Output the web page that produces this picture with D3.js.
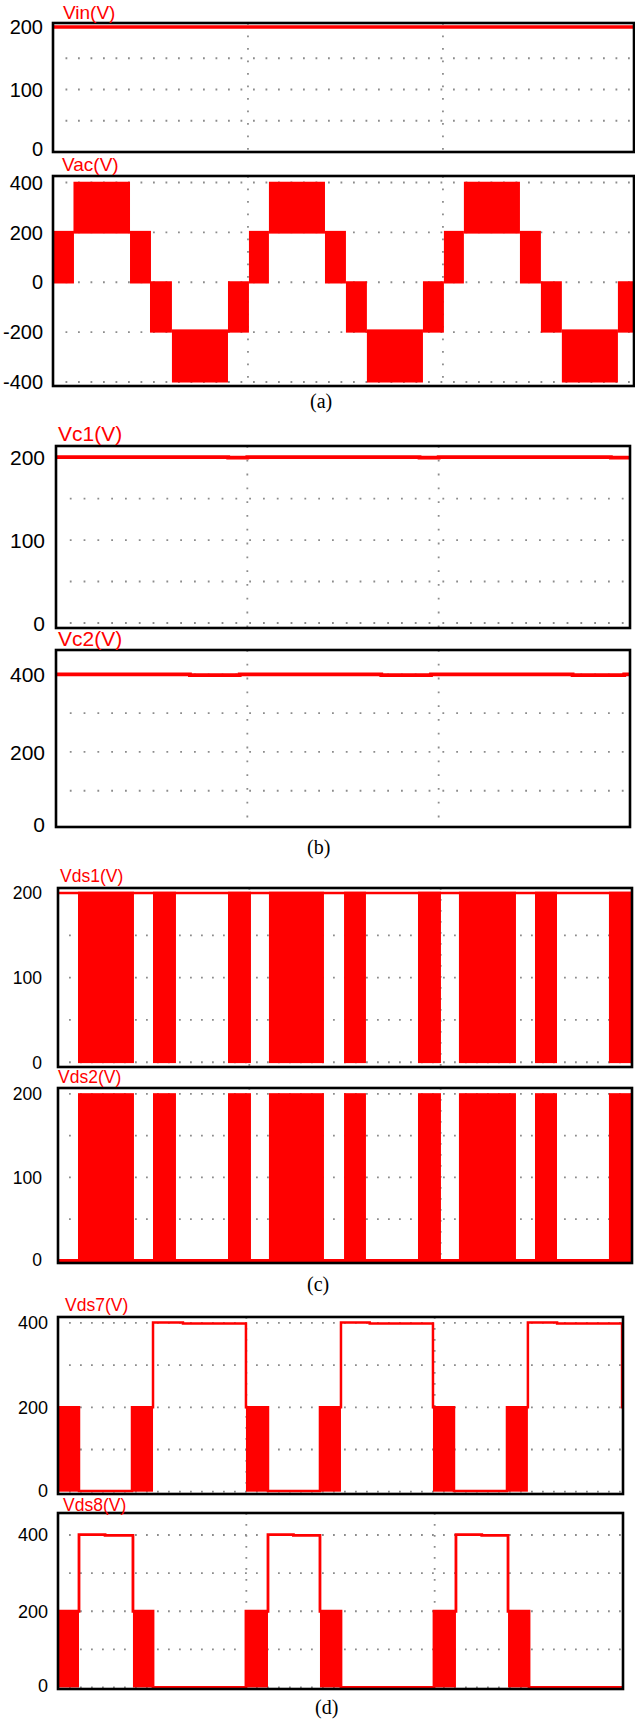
<!DOCTYPE html>
<html>
<head>
<meta charset="utf-8">
<script src="https://cdn.jsdelivr.net/npm/d3@7/dist/d3.min.js"></script>
<style>
    body { margin: 0; background: #fff; }
    svg text { font-family: "Liberation Sans", Arial, sans-serif; }
    .cap { font-family: "Liberation Serif", "Times New Roman", serif; }
</style>
</head>
<body>
<svg id="chart" width="635" height="1724"></svg>
<script>
// ---- data (time in ms, voltage in V) ----

// vertical dotted grid, every 20 ms
const timeGrid = [20, 40];

// (a) input voltage and inverter output
const vinLine = [[0, 200], [59.6, 200]];
// PWM blocks: [t0, t1, low, high]
const vacBlocks = [
    [0, 2.15, -5, 206], [2.1, 7.9, 195, 403], [7.9, 10.05, -5, 206],
    [9.95, 12.2, -202, 4], [12.2, 17.95, -402, -189], [17.95, 20.1, -202, 4],
    [20.1, 22.15, -5, 206], [22.15, 27.9, 195, 403], [27.9, 30.05, -5, 206],
    [30.05, 32.2, -202, 4], [32.2, 37.95, -402, -189], [37.95, 40.1, -202, 4],
    [40.1, 42.15, -5, 206], [42.15, 47.9, 195, 403], [47.9, 50.05, -5, 206],
    [50.05, 52.2, -202, 4], [52.2, 57.95, -402, -189], [57.95, 59.6, -202, 4]
];

// (b) capacitor voltages
const vc1Line = [[0, 200], [18, 199.2], [20, 200], [38, 199.2], [40, 200], [58, 199.2], [60, 200]];
const vc2Line = [[0, 400], [14, 398], [19.2, 400], [34, 398], [39.2, 400], [54, 398], [59.4, 400], [60, 400]];

// (c) switch voltages Vds1, Vds2
const vds1Blocks = [
    [2.09, 7.94, -1, 201.5], [9.93, 12.33, -1, 201.5], [17.77, 20.17, -1, 201.5],
    [22.05, 27.8, -1, 201.5], [29.9, 32.19, -1, 201.5], [37.63, 40.03, -1, 201.5],
    [41.91, 47.87, -1, 201.5], [49.86, 52.16, -1, 201.5], [57.59, 60, -1, 201.5]
];
const vds1Line = [[0, 200], [60, 200]];
const vds2Blocks = [
    [2.09, 7.94, 0, 200.8], [9.93, 12.33, 0, 200.8], [17.77, 20.17, 0, 200.8],
    [22.05, 27.8, 0, 200.8], [29.9, 32.19, 0, 200.8], [37.63, 40.03, 0, 200.8],
    [41.91, 47.87, 0, 200.8], [49.86, 52.16, 0, 200.8], [57.59, 60, 0, 200.8]
];
const vds2Line = [[0, 0], [60, 0]];

// (d) switch voltages Vds7, Vds8
const vds7Blocks = [
    [0, 2.23, 0, 200], [7.86, 10.09, 0, 200], [19.96, 22.3, 0, 200],
    [27.82, 30.05, 0, 200], [39.82, 42.05, 0, 200], [47.68, 49.9, 0, 200]
];
const vds7Line = [
    [0, 200], [2.23, 1.5], [7.86, 200], [10.09, 401], [13.27, 398.5], [19.96, 200],
    [22.3, 1.5], [27.82, 200], [30.05, 401], [33.1, 398.5], [39.82, 200],
    [42.05, 1.5], [47.68, 200], [49.9, 401], [53.0, 398.5], [59.9, 200], [60, 200]
];
const vds8Blocks = [
    [0, 2.23, 0, 200], [7.96, 10.09, 0, 200], [19.96, 22.3, 0, 200],
    [27.82, 30.05, 0, 200], [39.93, 42.26, 0, 200], [47.79, 50.02, 0, 200]
];
const vds8Line = [
    [0, 200], [2.23, 401], [5.0, 399], [7.96, 200], [10.09, 0], [19.96, 200],
    [22.3, 401], [25.0, 399], [27.82, 200], [30.05, 0], [39.93, 200],
    [42.26, 401], [45.0, 399], [47.79, 200], [50.02, 0], [60, 0]
];

// axis ticks and dotted grid levels
const ticks200 = [0, 100, 200];
const ticksVac = [-400, -200, 0, 200, 400];
const ticks400 = [0, 200, 400];
const grid200 = [0, 50, 100, 150, 200];
const gridVac = [-400, -200, 0, 200, 400];
const grid400 = [0, 100, 200, 300, 400];

// ---- layout ----
const panels = [
    {name: "Vin(V)", left: 53, right: 634, top: 23, bottom: 152, xMax: 59.6, yDom: [0, 206.4],
     ticks: ticks200, grid: grid200, blocks: [], line: vinLine, lw: 3.6,
     font: 20, pad: 10, lab: 19, labX: 63, labY: 19, dot: 12.5},
    {name: "Vac(V)", left: 53, right: 634, top: 176, bottom: 386, xMax: 59.6, yDom: [-416, 426],
     ticks: ticksVac, grid: gridVac, blocks: vacBlocks, line: null, lw: 0,
     font: 20, pad: 10, lab: 19, labX: 62, labY: 171, dot: 12.5},
    {name: "Vc1(V)", left: 56, right: 630, top: 446, bottom: 628, xMax: 60, yDom: [-6, 213.3],
     ticks: ticks200, grid: grid200, blocks: [], line: vc1Line, lw: 3.8,
     font: 21, pad: 11, lab: 21, labX: 58, labY: 441, dot: 13.8},
    {name: "Vc2(V)", left: 56, right: 630, top: 650, bottom: 827, xMax: 60, yDom: [6.5, 463],
     ticks: ticks400, grid: grid400, blocks: [], line: vc2Line, lw: 3.8,
     font: 21, pad: 11, lab: 21, labX: 58, labY: 645.5, dot: 13.8},
    {name: "Vds1(V)", left: 58, right: 632, top: 888, bottom: 1067, xMax: 60, yDom: [-5.6, 205.9],
     ticks: ticks200, grid: grid200, blocks: vds1Blocks, line: vds1Line, lw: 2.7,
     font: 17.5, pad: 16, lab: 17.5, labX: 60, labY: 881.5, dot: 11},
    {name: "Vds2(V)", left: 58, right: 632, top: 1088, bottom: 1263, xMax: 60, yDom: [-2.4, 207],
     ticks: ticks200, grid: grid200, blocks: vds2Blocks, line: vds2Line, lw: 4,
     font: 17.5, pad: 16, lab: 17.5, labX: 58, labY: 1082.5, dot: 11},
    {name: "Vds7(V)", left: 58, right: 623, top: 1317, bottom: 1494, xMax: 60, yDom: [-5.5, 414],
     ticks: ticks400, grid: grid400, blocks: vds7Blocks, line: vds7Line, lw: 2.5,
     font: 18, pad: 10, lab: 17.5, labX: 65, labY: 1311, dot: 11},
    {name: "Vds8(V)", left: 58, right: 623, top: 1513, bottom: 1689, xMax: 60, yDom: [-4, 457.7],
     ticks: ticks400, grid: grid400, blocks: vds8Blocks, line: vds8Line, lw: 2.8,
     font: 18, pad: 10, lab: 17.5, labX: 63, labY: 1511, dot: 11}
];

const captions = [
    {text: "(a)", x: 310, y: 408},
    {text: "(b)", x: 307, y: 854},
    {text: "(c)", x: 307, y: 1291},
    {text: "(d)", x: 315, y: 1714}
];

const svg = d3.select("#chart");
const red = "#ff0000";

function drawPanel(p, i) {
    const x = d3.scaleLinear().domain([0, p.xMax]).range([p.left, p.right]);
    const y = d3.scaleLinear().domain(p.yDom).range([p.bottom, p.top]);
    const g = svg.append("g");

    const clipId = "clip" + i;
    svg.append("clipPath").attr("id", clipId)
        .append("rect")
        .attr("x", p.left).attr("y", p.top)
        .attr("width", p.right - p.left).attr("height", p.bottom - p.top);

    // dotted grid
    const dash = "1.8 " + (p.dot - 1.8);
    g.selectAll(".hg")
        .data(p.grid.filter(v => y(v) <= p.bottom + 1 && y(v) >= p.top - 1))
        .enter().append("line")
        .attr("x1", p.left + p.dot).attr("x2", p.right)
        .attr("y1", d => y(d)).attr("y2", d => y(d))
        .attr("stroke", "#8c8c8c").attr("stroke-width", 1.8)
        .attr("stroke-dasharray", dash);
    g.selectAll(".vg")
        .data(timeGrid)
        .enter().append("line")
        .attr("x1", d => x(d)).attr("x2", d => x(d))
        .attr("y1", p.top).attr("y2", p.bottom)
        .attr("stroke", "#8c8c8c").attr("stroke-width", 1.8)
        .attr("stroke-dasharray", dash);

    const plot = g.append("g").attr("clip-path", "url(#" + clipId + ")");

    // PWM blocks
    plot.selectAll("rect")
        .data(p.blocks)
        .enter().append("rect")
        .attr("x", d => x(d[0]))
        .attr("width", d => x(d[1]) - x(d[0]))
        .attr("y", d => y(d[3]))
        .attr("height", d => y(d[2]) - y(d[3]))
        .attr("fill", red);

    // trace
    if (p.line) {
        const line = d3.line()
            .curve(d3.curveStepAfter)
            .x(d => x(d[0]))
            .y(d => y(d[1]));
        plot.append("path")
            .datum(p.line)
            .attr("d", line)
            .attr("fill", "none")
            .attr("stroke", red)
            .attr("stroke-width", p.lw);
    }

    // frame
    g.append("rect")
        .attr("x", p.left).attr("y", p.top)
        .attr("width", p.right - p.left).attr("height", p.bottom - p.top)
        .attr("fill", "none")
        .attr("stroke", "#000").attr("stroke-width", 2.6);

    // y tick labels (kept inside the frame when a tick falls just outside)
    g.selectAll(".tl")
        .data(p.ticks)
        .enter().append("text")
        .attr("x", p.left - p.pad)
        .attr("y", d => Math.min(y(d), p.bottom - 3))
        .attr("dy", "0.36em")
        .attr("text-anchor", "end")
        .attr("font-size", p.font)
        .attr("fill", "#000")
        .text(d => d);

    // trace name
    g.append("text")
        .attr("x", p.labX).attr("y", p.labY)
        .attr("font-size", p.lab)
        .attr("fill", red)
        .text(p.name);
}

panels.forEach(drawPanel);

svg.selectAll(".cap")
    .data(captions)
    .enter().append("text")
    .attr("class", "cap")
    .attr("x", d => d.x).attr("y", d => d.y)
    .attr("font-size", 20)
    .attr("fill", "#000")
    .text(d => d.text);
</script>
</body>
</html>
